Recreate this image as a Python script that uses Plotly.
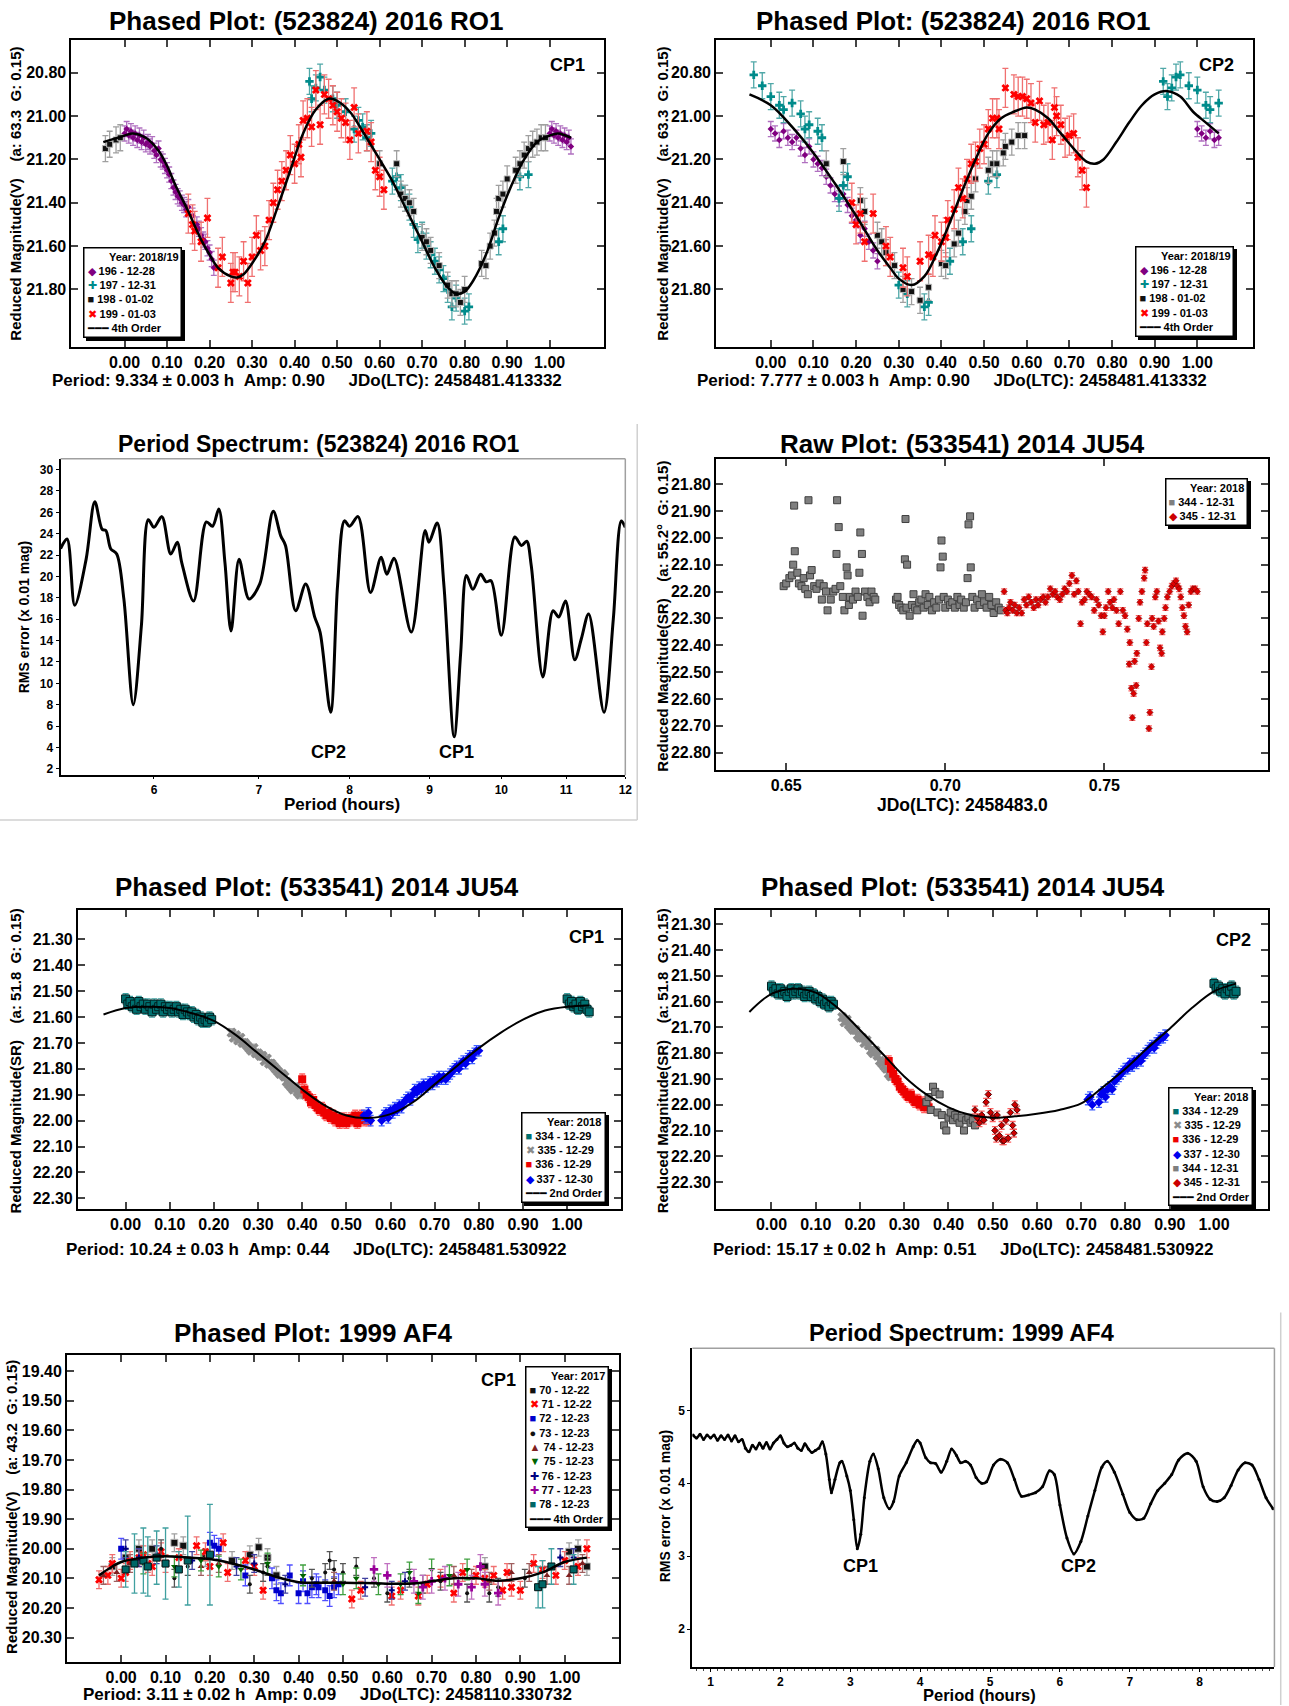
import math
import plotly.graph_objects as go

# ------------------------------------------------------------------ data
# Panel 1 : (523824) 2016 RO1, CP1 (phase, reduced magnitude)
RO1_CP1_196 = [(0.000,21.08),(0.005,21.06),(0.010,21.09),(0.015,21.07),(0.020,21.10),(0.025,21.08),(0.030,21.11),
               (0.035,21.09),(0.040,21.12),(0.045,21.10),(0.050,21.13),(0.055,21.12),(0.060,21.14),(0.065,21.13),
               (0.070,21.16),(0.075,21.18),(0.080,21.15),(0.085,21.20),(0.090,21.21),(0.095,21.23),(0.100,21.25),
               (0.105,21.27),(0.110,21.30),(0.115,21.33),(0.120,21.35),(0.125,21.37),(0.130,21.38),(0.135,21.40),
               (0.140,21.41),(0.145,21.43),(0.150,21.42),(0.160,21.46),(0.170,21.50),(0.175,21.52),(0.180,21.55),
               (0.185,21.57),(0.190,21.58),(0.195,21.61),(0.200,21.63),(0.205,21.66),(0.210,21.70),
               (1.000,21.08),(1.005,21.06),(1.010,21.09),(1.015,21.07),(1.020,21.10),(1.025,21.08),(1.030,21.11),
               (1.035,21.09),(1.040,21.12),(1.045,21.10),(1.050,21.14)]
RO1_CP1_197 = [(0.435,20.84),(0.440,20.92),(0.450,20.87),(0.460,20.82),(0.470,20.88),(0.490,20.92),(0.500,20.95),
               (0.520,20.98),(0.540,21.06),(0.550,21.02),(0.560,21.05),(0.570,21.10),(0.580,21.08),(0.630,21.30),
               (0.640,21.28),(0.650,21.33),(0.660,21.38),(0.670,21.42),(0.680,21.50),(0.690,21.57),(0.700,21.55),
               (0.710,21.60),(0.720,21.64),(0.730,21.67),(0.740,21.71),(0.750,21.75),(0.760,21.80),(0.770,21.88),
               (0.780,21.84),(0.800,21.90),(0.810,21.88),(0.880,21.58),(0.890,21.52),(0.930,21.28),(0.950,21.27)]
RO1_CP1_198 = [(-0.045,21.15),(-0.035,21.13),(-0.020,21.11),(-0.010,21.10),(0.600,21.22),(0.640,21.22),(0.650,21.36),
               (0.660,21.38),(0.670,21.40),(0.680,21.44),(0.700,21.56),(0.710,21.58),(0.720,21.62),(0.740,21.69),
               (0.760,21.78),(0.770,21.82),(0.780,21.82),(0.790,21.86),(0.800,21.80),(0.840,21.68),(0.850,21.69),
               (0.860,21.60),(0.870,21.54),(0.875,21.44),(0.880,21.38),(0.890,21.36),(0.900,21.29),(0.920,21.25),
               (0.930,21.22),(0.940,21.18),(0.950,21.15),(0.960,21.13),(0.970,21.12),(0.980,21.10),(0.990,21.10)]
RO1_CP1_199 = [(0.150,21.45),(0.160,21.50),(0.165,21.53),(0.180,21.58),(0.195,21.47),(0.220,21.70),(0.230,21.65),
               (0.250,21.77),(0.255,21.72),(0.260,21.72),(0.270,21.74),(0.280,21.67),(0.290,21.77),(0.300,21.65),
               (0.310,21.55),(0.320,21.62),(0.330,21.60),(0.340,21.48),(0.350,21.40),(0.360,21.34),(0.370,21.30),
               (0.380,21.25),(0.390,21.18),(0.400,21.22),(0.410,21.13),(0.415,21.19),(0.420,21.02),(0.430,21.01),
               (0.440,21.05),(0.450,20.88),(0.460,21.04),(0.470,20.90),(0.480,20.92),(0.490,20.95),(0.500,20.98),
               (0.510,21.01),(0.520,21.03),(0.530,21.11),(0.540,20.96),(0.550,21.08),(0.570,21.07),(0.580,21.12),
               (0.590,21.25),(0.600,21.28),(0.610,21.34)]
RO1_CP1_FIT = [(-0.05,21.12),(0.00,21.09),(0.02,21.08),(0.05,21.10),(0.08,21.16),(0.10,21.23),(0.12,21.32),
               (0.15,21.44),(0.18,21.57),(0.20,21.64),(0.22,21.70),(0.25,21.74),(0.265,21.745),(0.28,21.73),
               (0.30,21.68),(0.33,21.58),(0.36,21.42),(0.39,21.25),(0.42,21.08),(0.45,20.97),(0.48,20.92),
               (0.50,20.93),(0.53,20.98),(0.56,21.07),(0.60,21.20),(0.63,21.30),(0.66,21.42),(0.70,21.58),
               (0.73,21.70),(0.76,21.79),(0.78,21.82),(0.80,21.81),(0.82,21.76),(0.85,21.64),(0.88,21.47),
               (0.91,21.32),(0.94,21.20),(0.97,21.12),(1.00,21.09),(1.02,21.08),(1.05,21.10)]

# Panel 2 : (523824) 2016 RO1, CP2
RO1_CP2_196 = [(0.000,21.06),(0.010,21.08),(0.020,21.11),(0.030,21.07),(0.040,21.10),(0.050,21.12),(0.060,21.10),
               (0.070,21.15),(0.080,21.18),(0.090,21.14),(0.100,21.20),(0.110,21.22),(0.120,21.24),(0.130,21.28),
               (0.140,21.32),(0.150,21.36),(0.160,21.38),(0.170,21.36),(0.180,21.41),(0.190,21.46),(0.200,21.48),
               (0.210,21.55),(0.220,21.52),(0.230,21.58),(0.240,21.62),(0.250,21.67),
               (1.000,21.06),(1.010,21.08),(1.020,21.10),(1.030,21.07),(1.040,21.11),(1.050,21.10)]
RO1_CP2_197 = [(-0.040,20.81),(-0.020,20.86),(0.000,20.91),(0.020,20.95),(0.030,20.97),(0.050,20.94),(0.070,20.99),
               (0.080,21.06),(0.090,21.04),(0.110,21.07),(0.120,21.10),(0.160,21.38),(0.170,21.32),(0.180,21.28),
               (0.300,21.78),(0.320,21.82),(0.360,21.88),(0.370,21.86),(0.420,21.67),(0.450,21.58),(0.470,21.52),
               (0.510,21.30),(0.530,21.27),(0.920,20.84),(0.930,20.91),(0.940,20.87),(0.950,20.82),(0.960,20.81),
               (0.980,20.86),(1.000,20.88),(1.020,20.95),(1.030,20.97),(1.050,20.94)]
RO1_CP2_198 = [(0.130,21.22),(0.170,21.21),(0.210,21.39),(0.220,21.44),(0.250,21.55),(0.260,21.58),(0.270,21.63),
               (0.290,21.69),(0.310,21.80),(0.330,21.81),(0.350,21.85),(0.370,21.79),(0.400,21.68),(0.410,21.69),
               (0.430,21.59),(0.440,21.54),(0.455,21.44),(0.460,21.39),(0.470,21.37),(0.480,21.29),(0.510,21.25),
               (0.520,21.22),(0.530,21.22),(0.545,21.17),(0.550,21.14),(0.565,21.12),(0.580,21.09),(0.595,21.09)]
RO1_CP2_199 = [(0.190,21.40),(0.200,21.50),(0.210,21.45),(0.220,21.58),(0.240,21.45),(0.270,21.60),(0.280,21.65),
               (0.310,21.70),(0.320,21.74),(0.350,21.67),(0.370,21.64),(0.380,21.65),(0.385,21.55),(0.400,21.58),
               (0.410,21.56),(0.415,21.48),(0.430,21.43),(0.440,21.33),(0.450,21.38),(0.460,21.29),(0.470,21.22),
               (0.480,21.21),(0.490,21.15),(0.500,21.13),(0.510,21.06),(0.520,21.01),(0.530,21.01),(0.535,21.06),
               (0.550,20.87),(0.570,20.90),(0.580,20.91),(0.590,20.91),(0.600,20.92),(0.610,20.94),(0.620,21.03),
               (0.630,20.93),(0.640,21.04),(0.650,21.03),(0.660,21.11),(0.665,20.96),(0.670,21.00),(0.680,21.04),
               (0.690,21.10),(0.700,21.09),(0.710,21.08),(0.720,21.19),(0.730,21.25),(0.740,21.33)]
RO1_CP2_FIT = [(-0.05,20.90),(0.00,20.95),(0.05,21.05),(0.10,21.17),(0.15,21.31),(0.20,21.46),(0.25,21.62),
               (0.28,21.70),(0.30,21.75),(0.33,21.78),(0.36,21.74),(0.39,21.63),(0.42,21.49),(0.45,21.34),
               (0.48,21.20),(0.51,21.08),(0.54,21.01),(0.57,20.98),(0.60,20.96),(0.62,20.97),(0.65,21.01),
               (0.68,21.08),(0.71,21.15),(0.74,21.21),(0.76,21.22),(0.78,21.20),(0.81,21.12),(0.84,21.03),
               (0.87,20.95),(0.90,20.90),(0.93,20.885),(0.96,20.91),(0.99,20.98),(1.02,21.03),(1.05,21.08)]

# Panel 3 : period spectrum (523824) 2016 RO1 (period h, RMS x0.01 mag)
RO1_SPECTRUM = [(5.23,22.6),(5.28,23.5),(5.34,17.3),(5.43,21.6),(5.50,27.0),(5.56,24.4),(5.59,24.3),(5.63,22.6),
                (5.68,22.1),(5.74,17.9),(5.82,8.0),(5.89,15.4),(5.95,25.3),(6.00,24.6),(6.07,25.6),(6.15,22.1),
                (6.21,23.2),(6.25,21.3),(6.36,17.7),(6.48,25.1),(6.54,24.7),(6.60,26.3),(6.66,21.3),(6.72,14.9),
                (6.80,21.6),(6.90,17.9),(7.01,19.3),(7.15,26.1),(7.23,23.8),(7.28,22.9),(7.39,16.8),(7.50,19.3),
                (7.60,16.2),(7.66,14.8),(7.78,7.3),(7.86,19.2),(7.94,25.2),(8.00,24.7),(8.10,25.6),(8.25,18.5),
                (8.38,21.8),(8.45,20.2),(8.54,21.7),(8.76,14.8),(8.94,24.3),(8.99,23.2),(9.10,25.0),(9.19,19.2),
                (9.33,5.0),(9.42,12.9),(9.50,20.1),(9.59,18.8),(9.70,20.2),(9.78,19.5),(9.85,19.6),(10.00,14.5),
                (10.20,23.7),(10.30,22.9),(10.38,23.3),(10.45,21.0),(10.63,10.6),(10.79,16.8),(10.88,16.2),
                (10.99,17.7),(11.14,12.2),(11.25,14.2),(11.37,16.5),(11.63,7.3),(11.79,16.0),(11.93,25.2),(12.00,24.6)]

# Panel 4 : raw plot (533541) 2014 JU54 (JD fraction, reduced magnitude)
JU54_RAW_344 = [(0.6492,22.18),(0.6500,22.17),(0.6510,22.15),(0.6518,22.14),(0.6522,22.10),(0.6525,21.88),
                (0.6527,22.05),(0.6535,22.13),(0.6540,22.17),(0.6548,22.18),(0.6555,22.15),(0.6560,22.19),
                (0.6568,22.21),(0.6570,21.86),(0.6575,22.14),(0.6580,22.12),(0.6588,22.18),(0.6595,22.19),
                (0.6605,22.17),(0.6612,22.23),(0.6618,22.18),(0.6625,22.20),(0.6630,22.27),(0.6640,22.23),
                (0.6648,22.20),(0.6655,22.19),(0.6658,22.06),(0.6660,21.86),(0.6665,21.96),(0.6670,22.18),
                (0.6678,22.22),(0.6683,22.27),(0.6690,22.11),(0.6693,22.14),(0.6697,22.25),(0.6700,22.22),
                (0.6710,22.23),(0.6718,22.20),(0.6725,22.22),(0.6730,22.13),(0.6733,21.98),(0.6738,22.06),
                (0.6740,22.29),(0.6748,22.20),(0.6755,22.22),(0.6762,22.24),(0.6768,22.20),(0.6775,22.22),
                (0.6780,22.23),(0.6845,22.23),(0.6850,22.22),(0.6855,22.25),(0.6862,22.26),(0.6868,22.27),
                (0.6873,22.08),(0.6875,21.93),(0.6878,22.26),(0.6880,22.10),(0.6888,22.29),(0.6895,22.25),
                (0.6900,22.21),(0.6905,22.26),(0.6912,22.27),(0.6918,22.24),(0.6925,22.23),(0.6932,22.26),
                (0.6938,22.21),(0.6945,22.25),(0.6950,22.22),(0.6958,22.27),(0.6965,22.24),(0.6972,22.26),
                (0.6980,22.23),(0.6985,22.11),(0.6988,22.01),(0.6992,22.07),(0.6995,22.22),(0.7000,22.26),
                (0.7008,22.23),(0.7015,22.25),(0.7022,22.24),(0.7030,22.26),(0.7038,22.22),(0.7045,22.25),
                (0.7050,22.23),(0.7058,22.26),(0.7065,22.24),(0.7070,22.15),(0.7073,21.95),(0.7078,21.92),
                (0.7080,22.11),(0.7085,22.22),(0.7092,22.26),(0.7100,22.23),(0.7108,22.25),(0.7115,22.21),
                (0.7122,22.24),(0.7130,22.26),(0.7138,22.22),(0.7145,22.25),(0.7152,22.28),(0.7160,22.24),
                (0.7168,22.26),(0.7175,22.27)]
JU54_RAW_345 = [(0.7185,22.20),(0.7190,22.27),(0.7195,22.28),(0.7200,22.26),(0.7205,22.24),(0.7212,22.27),
                (0.7218,22.25),(0.7225,22.28),(0.7232,22.26),(0.7240,22.28),(0.7248,22.23),(0.7255,22.25),
                (0.7262,22.22),(0.7270,22.24),(0.7278,22.26),(0.7285,22.23),(0.7292,22.25),(0.7300,22.23),
                (0.7308,22.22),(0.7315,22.24),(0.7322,22.22),(0.7330,22.19),(0.7338,22.21),(0.7345,22.20),
                (0.7352,22.22),(0.7360,22.23),(0.7368,22.21),(0.7375,22.19),(0.7382,22.20),(0.7390,22.17),
                (0.7398,22.14),(0.7405,22.21),(0.7412,22.16),(0.7418,22.20),(0.7425,22.32),(0.7430,22.24),
                (0.7438,22.23),(0.7445,22.20),(0.7452,22.21),(0.7460,22.22),(0.7468,22.27),(0.7475,22.23),
                (0.7482,22.25),(0.7490,22.29),(0.7495,22.35),(0.7500,22.29),(0.7505,22.26),(0.7512,22.20),
                (0.7518,22.24),(0.7525,22.26),(0.7530,22.23),(0.7538,22.27),(0.7545,22.32),(0.7550,22.20),
                (0.7558,22.27),(0.7565,22.29),(0.7572,22.34),(0.7578,22.47),(0.7580,22.39),(0.7585,22.56),
                (0.7588,22.67),(0.7592,22.58),(0.7595,22.46),(0.7600,22.55),(0.7602,22.43),(0.7608,22.30),
                (0.7612,22.24),(0.7618,22.20),(0.7625,22.15),(0.7628,22.12),(0.7632,22.39),(0.7635,22.32),
                (0.7640,22.71),(0.7643,22.65),(0.7648,22.48),(0.7650,22.30),(0.7655,22.33),(0.7660,22.22),
                (0.7665,22.20),(0.7670,22.31),(0.7675,22.41),(0.7680,22.43),(0.7682,22.35),(0.7688,22.30),
                (0.7692,22.26),(0.7698,22.22),(0.7705,22.20),(0.7712,22.18),(0.7718,22.17),(0.7725,22.16),
                (0.7730,22.18),(0.7735,22.19),(0.7740,22.22),(0.7745,22.26),(0.7750,22.29),(0.7755,22.33),
                (0.7760,22.35),(0.7765,22.25),(0.7772,22.20),(0.7778,22.19),(0.7785,22.19),(0.7792,22.20)]

# Panel 5 : (533541) 2014 JU54, CP1
JU54_CP1_334 = [(0.000,21.53),(0.005,21.55),(0.010,21.54),(0.015,21.56),(0.020,21.55),(0.025,21.57),(0.030,21.54),
                (0.035,21.56),(0.040,21.55),(0.045,21.57),(0.050,21.55),(0.055,21.56),(0.060,21.58),(0.065,21.55),
                (0.070,21.57),(0.075,21.56),(0.080,21.55),(0.085,21.58),(0.090,21.56),(0.095,21.57),(0.100,21.56),
                (0.105,21.58),(0.110,21.57),(0.115,21.56),(0.120,21.58),(0.125,21.57),(0.130,21.59),(0.135,21.57),
                (0.140,21.58),(0.145,21.59),(0.150,21.58),(0.155,21.60),(0.160,21.59),(0.165,21.61),(0.170,21.60),
                (0.175,21.62),(0.180,21.61),(0.185,21.62),(0.190,21.60),(0.195,21.61),
                (1.000,21.53),(1.005,21.55),(1.010,21.54),(1.015,21.56),(1.020,21.55),(1.025,21.57),(1.030,21.54),
                (1.035,21.56),(1.040,21.55),(1.045,21.57),(1.050,21.58)]
JU54_CP1_335 = [(0.240,21.66),(0.245,21.68),(0.250,21.67),(0.255,21.69),(0.260,21.68),(0.265,21.70),(0.270,21.70),
                (0.275,21.71),(0.280,21.72),(0.285,21.73),(0.290,21.72),(0.295,21.74),(0.300,21.74),(0.305,21.75),
                (0.310,21.75),(0.315,21.77),(0.320,21.76),(0.325,21.78),(0.330,21.78),(0.335,21.79),(0.340,21.80),
                (0.345,21.81),(0.350,21.82),(0.355,21.82),(0.360,21.83),(0.365,21.85),(0.370,21.86),(0.375,21.87),
                (0.380,21.88),(0.385,21.87),(0.390,21.89),(0.395,21.90)]
JU54_CP1_336 = [(0.400,21.84),(0.405,21.88),(0.410,21.90),(0.415,21.91),(0.420,21.93),(0.425,21.92),(0.430,21.94),
                (0.435,21.95),(0.440,21.96),(0.445,21.95),(0.450,21.97),(0.455,21.98),(0.460,21.97),(0.465,21.99),
                (0.470,21.98),(0.475,22.00),(0.480,21.99),(0.485,22.01),(0.490,22.00),(0.495,21.99),(0.500,22.01),
                (0.505,22.00),(0.510,21.99),(0.515,22.00),(0.520,21.98),(0.525,22.01),(0.530,21.99),(0.535,21.98),
                (0.540,22.00),(0.545,21.99),(0.550,22.00)]
JU54_CP1_337 = [(0.540,21.98),(0.545,21.99),(0.550,21.97),(0.555,22.00),(0.580,22.00),(0.585,21.98),(0.590,21.97),
                (0.595,21.99),(0.600,21.96),(0.605,21.97),(0.610,21.95),(0.615,21.96),(0.620,21.94),(0.625,21.95),
                (0.630,21.93),(0.635,21.92),(0.640,21.91),(0.645,21.92),(0.650,21.90),(0.655,21.88),(0.660,21.89),
                (0.665,21.87),(0.670,21.88),(0.675,21.86),(0.680,21.87),(0.685,21.86),(0.690,21.85),(0.695,21.86),
                (0.700,21.84),(0.705,21.85),(0.710,21.83),(0.715,21.84),(0.720,21.83),(0.725,21.84),(0.730,21.83),
                (0.735,21.82),(0.740,21.81),(0.745,21.80),(0.750,21.79),(0.755,21.80),(0.760,21.78),(0.765,21.77),
                (0.770,21.78),(0.775,21.76),(0.780,21.75),(0.785,21.76),(0.790,21.74),(0.795,21.73),(0.800,21.73)]
JU54_CP1_FIT = [(-0.05,21.59),(0.00,21.565),(0.05,21.56),(0.10,21.565),(0.15,21.585),(0.20,21.615),(0.25,21.67),
                (0.30,21.74),(0.35,21.81),(0.40,21.88),(0.45,21.94),(0.50,21.98),(0.55,21.99),(0.60,21.975),
                (0.65,21.93),(0.70,21.86),(0.75,21.79),(0.80,21.72),(0.85,21.66),(0.90,21.61),(0.95,21.575),
                (1.00,21.56),(1.05,21.555)]

# Panel 6 : (533541) 2014 JU54, CP2
JU54_CP2_334 = [(0.000,21.54),(0.005,21.56),(0.010,21.55),(0.015,21.57),(0.020,21.55),(0.025,21.57),(0.030,21.56),
                (0.035,21.58),(0.040,21.56),(0.045,21.55),(0.050,21.57),(0.055,21.56),(0.060,21.55),(0.065,21.57),
                (0.070,21.56),(0.075,21.58),(0.080,21.57),(0.085,21.56),(0.090,21.58),(0.095,21.57),(0.100,21.59),
                (0.105,21.58),(0.110,21.60),(0.115,21.59),(0.120,21.61),(0.125,21.60),(0.130,21.62),(0.135,21.60),
                (0.140,21.61),(1.000,21.53),(1.005,21.55),(1.010,21.54),(1.015,21.56),(1.020,21.55),(1.025,21.57),
                (1.030,21.55),(1.035,21.56),(1.040,21.54),(1.045,21.57),(1.050,21.56)]
JU54_CP2_335 = [(0.160,21.66),(0.165,21.68),(0.170,21.67),(0.175,21.69),(0.180,21.70),(0.185,21.71),(0.190,21.71),
                (0.195,21.73),(0.200,21.74),(0.205,21.74),(0.210,21.76),(0.215,21.75),(0.220,21.77),(0.225,21.79),
                (0.230,21.80),(0.235,21.79),(0.240,21.81),(0.245,21.83),(0.250,21.84),(0.255,21.85),(0.260,21.86),
                (0.265,21.88),(0.270,21.89)]
JU54_CP2_336 = [(0.265,21.83),(0.270,21.86),(0.275,21.88),(0.280,21.90),(0.285,21.91),(0.290,21.93),(0.295,21.94),
                (0.300,21.95),(0.305,21.96),(0.310,21.97),(0.315,21.96),(0.320,21.98),(0.325,21.99),(0.330,21.98),
                (0.335,22.00),(0.340,21.99),(0.345,22.01),(0.350,22.00),(0.355,22.01)]
JU54_CP2_337 = [(0.715,21.98),(0.720,21.97),(0.725,22.00),(0.740,21.99),(0.745,21.96),(0.750,21.95),(0.755,21.97),
                (0.760,21.94),(0.765,21.93),(0.770,21.94),(0.775,21.91),(0.780,21.90),(0.785,21.89),(0.790,21.88),
                (0.795,21.87),(0.800,21.86),(0.805,21.86),(0.810,21.84),(0.815,21.85),(0.820,21.83),(0.825,21.84),
                (0.830,21.82),(0.835,21.83),(0.840,21.81),(0.845,21.80),(0.850,21.79),(0.855,21.78),(0.860,21.77),
                (0.865,21.78),(0.870,21.76),(0.875,21.75),(0.880,21.74),(0.885,21.74),(0.890,21.73)]
JU54_CP2_344 = [(0.350,21.99),(0.355,21.97),(0.360,22.02),(0.365,21.93),(0.370,21.95),(0.375,22.03),(0.380,21.96),
                (0.385,22.04),(0.390,22.08),(0.395,22.10),(0.400,22.05),(0.405,22.03),(0.410,22.06),(0.415,22.04),
                (0.420,22.05),(0.425,22.07),(0.430,22.05),(0.435,22.10),(0.440,22.06),(0.445,22.05),(0.450,22.07),
                (0.455,22.06),(0.460,22.08)]
JU54_CP2_345 = [(0.460,22.02),(0.465,22.05),(0.470,22.07),(0.475,22.04),(0.480,22.06),(0.485,21.99),(0.490,21.96),
                (0.495,22.03),(0.500,22.05),(0.505,22.10),(0.508,22.13),(0.510,22.04),(0.515,22.12),(0.520,22.08),
                (0.522,22.14),(0.525,22.14),(0.530,22.06),(0.535,22.13),(0.540,22.03),(0.545,22.08),(0.548,22.11),
                (0.550,22.00),(0.555,22.02)]
JU54_CP2_FIT = [(-0.05,21.64),(0.00,21.57),(0.05,21.55),(0.10,21.565),(0.15,21.625),(0.20,21.71),(0.25,21.80),
                (0.30,21.89),(0.35,21.96),(0.40,22.01),(0.45,22.04),(0.50,22.05),(0.55,22.045),(0.60,22.035),
                (0.65,22.02),(0.70,21.995),(0.75,21.93),(0.80,21.86),(0.85,21.78),(0.90,21.705),(0.95,21.625),
                (1.00,21.56),(1.05,21.53)]

# Panel 7 : 1999 AF4, CP1
AF4_70 = [(-0.020,20.06),(0.010,20.03),(0.040,20.00),(0.070,20.00),(0.120,19.98),(0.140,19.99),(0.190,20.03),
          (0.250,20.04),(0.290,20.02),(0.310,19.995),(0.330,20.03),(0.350,20.09),(0.820,20.06),(1.010,20.01),
          (1.030,20.00),(1.050,20.06)]
AF4_71 = [(-0.050,20.105),(-0.030,20.09),(-0.020,20.05),(0.000,20.10),(0.010,20.08),(0.020,20.04),(0.040,20.03),
          (0.050,20.02),(0.060,20.05),(0.070,20.06),(0.090,20.01),(0.100,20.05),(0.130,20.03),(0.170,19.99),
          (0.190,20.01),(0.200,20.06),(0.230,19.98),(0.240,20.08),(0.280,20.04),(0.300,20.06),(0.320,20.14),
          (0.520,20.17),(0.540,20.14),(0.610,20.16),(0.630,20.14),(0.670,20.16),(0.690,20.12),(0.720,20.10),
          (0.750,20.15),(0.770,20.08),(0.800,20.09),(0.820,20.10),(0.840,20.09),(0.860,20.14),(0.870,20.08),
          (0.880,20.13),(0.900,20.14),(0.930,20.05),(0.950,20.07),(0.980,20.09),(1.000,20.04),(1.030,20.06),
          (1.050,20.00)]
AF4_72 = [(0.000,20.00),(0.200,19.98),(0.210,19.99),(0.220,20.00),(0.280,20.09),(0.340,20.10),(0.350,20.14),
          (0.360,20.15),(0.380,20.09),(0.400,20.15),(0.410,20.11),(0.420,20.15),(0.430,20.13),(0.440,20.12),
          (0.445,20.13),(0.460,20.14),(0.470,20.16),(0.480,20.13),(0.490,20.12)]
AF4_73 = [(0.090,20.00),(0.120,20.10),(0.150,20.06),(0.290,20.12),(0.320,20.08),(0.330,20.06),(0.430,20.10),
          (0.460,20.08),(0.470,20.04),(0.480,20.07),(0.500,20.08),(0.530,20.06),(0.570,20.10),(0.600,20.15),
          (0.650,20.10),(0.680,20.12),(0.720,20.11),(0.780,20.15),(0.830,20.15),(0.850,20.13),(0.910,20.10)]
AF4_74 = [(-0.040,20.09),(-0.010,20.08),(0.020,20.05),(0.180,20.06),(0.220,20.05),(0.480,20.11),(0.750,20.09),
          (0.790,20.10),(0.830,20.11),(0.880,20.08),(0.920,20.08),(0.960,20.09),(1.010,20.09),(1.040,20.05)]
AF4_75 = [(0.050,20.05),(0.120,20.06),(0.180,20.04),(0.220,20.06),(0.270,20.07),(0.330,20.05),(0.410,20.09),
          (0.500,20.12),(0.530,20.10),(0.580,20.12),(0.630,20.12),(0.650,20.08),(0.670,20.15),(0.700,20.07),
          (0.740,20.09),(0.780,20.07)]
AF4_76 = [(0.010,20.00),(0.040,20.03),(0.080,20.02),(0.160,20.04),(0.260,20.06),(0.300,20.05),(0.370,20.12),
          (0.550,20.13),(0.610,20.14),(0.640,20.11),(0.990,20.03),(1.020,20.03)]
AF4_77 = [(0.570,20.07),(0.600,20.09),(0.660,20.11),(0.680,20.13),(0.700,20.11),(0.730,20.10),(0.760,20.12),
          (0.790,20.13),(0.810,20.06),(0.820,20.12),(0.850,20.15)]
AF4_78 = [(0.010,20.07),(0.030,20.05),(0.050,20.04),(0.060,20.06),(0.080,20.03),(0.100,20.05),(0.130,20.07),
          (0.150,20.04),(0.200,20.02),(0.940,20.13),(0.950,20.12),(0.970,20.06),(1.020,20.07)]
AF4_78_ERR = [0.06,0.10,0.11,0.10,0.09,0.12,0.06,0.15,0.17,0.07,0.08,0.06,0.05]
AF4_FIT = [(-0.05,20.09),(-0.02,20.06),(0.00,20.045),(0.05,20.03),(0.10,20.025),(0.15,20.03),(0.20,20.035),
           (0.25,20.05),(0.30,20.07),(0.35,20.095),(0.40,20.113),(0.45,20.115),(0.50,20.115),(0.55,20.116),
           (0.60,20.118),(0.65,20.118),(0.70,20.11),(0.75,20.10),(0.80,20.10),(0.85,20.108),(0.90,20.10),
           (0.95,20.08),(1.00,20.045),(1.05,20.03)]

# Panel 8 : period spectrum 1999 AF4
AF4_SPECTRUM = [(0.75,4.66),(0.80,4.62),(0.85,4.67),(0.90,4.60),(0.95,4.66),(1.00,4.62),(1.05,4.66),(1.10,4.59),
                (1.15,4.65),(1.20,4.60),(1.25,4.66),(1.30,4.58),(1.35,4.65),(1.40,4.57),(1.45,4.60),(1.50,4.48),
                (1.55,4.43),(1.60,4.52),(1.65,4.47),(1.70,4.55),(1.75,4.48),(1.80,4.56),(1.85,4.47),(1.90,4.55),
                (1.95,4.60),(2.00,4.65),(2.05,4.55),(2.10,4.50),(2.15,4.52),(2.20,4.55),(2.25,4.48),(2.30,4.45),
                (2.35,4.54),(2.40,4.47),(2.45,4.42),(2.50,4.45),(2.55,4.48),(2.60,4.57),(2.65,4.40),(2.70,4.05),
                (2.73,3.87),(2.78,4.05),(2.85,4.28),(2.88,4.30),(2.95,4.10),(3.00,3.90),(3.05,3.50),(3.10,3.10),
                (3.15,3.30),(3.20,3.80),(3.28,4.30),(3.33,4.40),(3.40,4.20),(3.48,3.80),(3.56,3.65),(3.62,3.75),
                (3.70,4.10),(3.80,4.28),(3.90,4.50),(3.96,4.59),(4.00,4.55),(4.08,4.35),(4.15,4.28),(4.22,4.27),
                (4.30,4.15),(4.38,4.30),(4.45,4.47),(4.52,4.38),(4.58,4.28),(4.65,4.30),(4.72,4.25),(4.80,4.08),
                (4.88,4.00),(4.95,4.02),(5.05,4.25),(5.15,4.33),(5.25,4.28),(5.35,4.05),(5.45,3.82),(5.55,3.84),
                (5.65,3.87),(5.75,3.95),(5.85,4.17),(5.92,4.12),(6.00,3.70),(6.10,3.25),(6.20,3.03),(6.30,3.20),
                (6.40,3.55),(6.50,3.90),(6.60,4.22),(6.68,4.30),(6.78,4.15),(6.90,3.85),(7.00,3.60),(7.10,3.50),
                (7.20,3.52),(7.30,3.72),(7.40,3.90),(7.50,4.00),(7.60,4.12),(7.70,4.32),(7.83,4.41),(7.95,4.30),
                (8.05,3.95),(8.15,3.78),(8.25,3.75),(8.35,3.80),(8.45,3.97),(8.55,4.18),(8.65,4.28),(8.75,4.25),
                (8.85,4.05),(8.95,3.80),(9.05,3.65)]

# tick labels
PHASE_TICKS = [0.0, 0.1, 0.2, 0.3, 0.4, 0.5, 0.6, 0.7, 0.8, 0.9, 1.0]
RO1_MAG_TICKS = [20.8, 21.0, 21.2, 21.4, 21.6, 21.8]
JU54_RAW_TICKS = [21.8, 21.9, 22.0, 22.1, 22.2, 22.3, 22.4, 22.5, 22.6, 22.7, 22.8]
JU54_MAG_TICKS = [21.3, 21.4, 21.5, 21.6, 21.7, 21.8, 21.9, 22.0, 22.1, 22.2, 22.3]
AF4_MAG_TICKS = [19.4, 19.5, 19.6, 19.7, 19.8, 19.9, 20.0, 20.1, 20.2, 20.3]
RO1_SPEC_XTICKS = [6, 7, 8, 9, 10, 11, 12]
RO1_SPEC_YTICKS = [2, 4, 6, 8, 10, 12, 14, 16, 18, 20, 22, 24, 26, 28, 30]
AF4_SPEC_XTICKS = [1, 2, 3, 4, 5, 6, 7, 8]
AF4_SPEC_YTICKS = [2, 3, 4, 5]

# legend entries: (glyph, colour, label)
LEG_RO1 = [("◆", "#800080", "196 - 12-28"), ("✚", "#008b8b", "197 - 12-31"),
           ("■", "#111111", "198 - 01-02"), ("✖", "#ff0000", "199 - 01-03"), ("━━━", "#000000", "4th Order")]
LEG_RAW = [("■", "#7f7f7f", "344 - 12-31"), ("◆", "#cc0000", "345 - 12-31")]
LEG_JU54_CP1 = [("■", "#007070", "334 - 12-29"), ("✖", "#8c8c8c", "335 - 12-29"),
                ("■", "#ee0000", "336 - 12-29"), ("◆", "#0000ee", "337 - 12-30"), ("━━━", "#000000", "2nd Order")]
LEG_JU54_CP2 = [("■", "#007070", "334 - 12-29"), ("✖", "#8c8c8c", "335 - 12-29"),
                ("■", "#ee0000", "336 - 12-29"), ("◆", "#0000ee", "337 - 12-30"),
                ("■", "#7f7f7f", "344 - 12-31"), ("◆", "#cc0000", "345 - 12-31"), ("━━━", "#000000", "2nd Order")]
LEG_AF4 = [("■", "#111111", "70 - 12-22"), ("✖", "#ff0000", "71 - 12-22"), ("■", "#0000cc", "72 - 12-23"),
           ("●", "#111111", "73 - 12-23"), ("▲", "#802020", "74 - 12-23"), ("▼", "#006400", "75 - 12-23"),
           ("✚", "#000080", "76 - 12-23"), ("✚", "#990099", "77 - 12-23"), ("■", "#006666", "78 - 12-23"),
           ("━━━", "#000000", "4th Order")]

# ------------------------------------------------------------------ layout helpers
SW, SH = 1185.0, 1568.0  # reference grid
FONT = "Liberation Sans, Arial, sans-serif"


def px(x):
    return x / SW


def py(y):
    return 1 - y / SH


def xs(d):
    return [p[0] for p in d]


def ys(d):
    return [p[1] for p in d]


fig = go.Figure()


def pts(d, ax, name, color, symbol, size, err, errcolor, line=None):
    if isinstance(err, float):
        ey = dict(type="constant", value=err, color=errcolor, thickness=1.3, width=3)
    elif err:
        ey = dict(type="data", array=err, color=errcolor, thickness=1.3, width=3)
    else:
        ey = None
    fig.add_trace(go.Scatter(
        x=xs(d), y=ys(d), mode="markers", name=name,
        xaxis="x%s" % ax, yaxis="y%s" % ax,
        marker=dict(color=color, symbol=symbol, size=size, line=line if line else dict(width=0)),
        error_y=ey, showlegend=False))


def fit(d, ax, name, width=2.5):
    fig.add_trace(go.Scatter(
        x=xs(d), y=ys(d), mode="lines", name=name, xaxis="x%s" % ax, yaxis="y%s" % ax,
        line=dict(color="black", width=width, shape="spline", smoothing=1.0), showlegend=False))


TEAL = "#008b8b"
PURPLE = "#800080"
RED = "#ff0000"

# Panel 1
pts(RO1_CP1_196, 1, "196 - 12-28", PURPLE, "diamond", 5, 0.035, "#b070c0")
pts(RO1_CP1_197, 1, "197 - 12-31", TEAL, "cross", 7, 0.06, "#50a8a8")
pts(RO1_CP1_198, 1, "198 - 01-02", "#111111", "square", 6, 0.06, "#a0a0a0", line=dict(color="#bbbbbb", width=1))
pts(RO1_CP1_199, 1, "199 - 01-03", RED, "x", 7, 0.09, "#f07070")
fit(RO1_CP1_FIT, 1, "4th Order")

# Panel 2
pts(RO1_CP2_196, 2, "196 - 12-28", PURPLE, "diamond", 5, 0.035, "#b070c0")
pts(RO1_CP2_197, 2, "197 - 12-31", TEAL, "cross", 7, 0.06, "#50a8a8")
pts(RO1_CP2_198, 2, "198 - 01-02", "#111111", "square", 6, 0.06, "#a0a0a0", line=dict(color="#bbbbbb", width=1))
pts(RO1_CP2_199, 2, "199 - 01-03", RED, "x", 7, 0.09, "#f07070")
fit(RO1_CP2_FIT, 2, "4th Order")

# Panel 3
fig.add_trace(go.Scatter(x=xs(RO1_SPECTRUM), y=ys(RO1_SPECTRUM), mode="lines", xaxis="x3", yaxis="y3",
                         name="RMS", line=dict(color="black", width=3, shape="spline", smoothing=0.9),
                         showlegend=False))

# Panel 4
pts(JU54_RAW_344, 4, "344 - 12-31", "#7f7f7f", "square", 7, None, None, line=dict(color="#404040", width=1))
pts(JU54_RAW_345, 4, "345 - 12-31", "#dd0000", "diamond", 5, 0.01, "#ff6060", line=dict(color="#600000", width=0.5))

# Panel 5
pts(JU54_CP1_334, 5, "334 - 12-29", "#007070", "square", 8, 0.02, "#40a0a0", line=dict(color="#002020", width=1))
pts(JU54_CP1_335, 5, "335 - 12-29", "#8c8c8c", "x", 9, 0.015, "#b0b0b0")
pts(JU54_CP1_336, 5, "336 - 12-29", "#ee0000", "square", 8, 0.02, "#ff6060")
pts(JU54_CP1_337, 5, "337 - 12-30", "#0000ee", "diamond", 7, 0.02, "#4060ff")
fit(JU54_CP1_FIT, 5, "2nd Order", width=2)

# Panel 6
pts(JU54_CP2_334, 6, "334 - 12-29", "#007070", "square", 8, 0.02, "#40a0a0", line=dict(color="#002020", width=1))
pts(JU54_CP2_335, 6, "335 - 12-29", "#8c8c8c", "x", 9, 0.015, "#b0b0b0")
pts(JU54_CP2_336, 6, "336 - 12-29", "#ee0000", "square", 8, 0.02, "#ff6060")
pts(JU54_CP2_337, 6, "337 - 12-30", "#0000ee", "diamond", 7, 0.02, "#4060ff")
pts(JU54_CP2_344, 6, "344 - 12-31", "#7f7f7f", "square", 7, None, None, line=dict(color="#404040", width=1))
pts(JU54_CP2_345, 6, "345 - 12-31", "#cc0000", "diamond", 5, 0.015, "#ff6060", line=dict(color="#500000", width=1))
fit(JU54_CP2_FIT, 6, "2nd Order", width=2)

# Panel 7
pts(AF4_70, 7, "70 - 12-22", "#111111", "square", 7, 0.03, "#a0a0a0", line=dict(color="#bbbbbb", width=1))
pts(AF4_71, 7, "71 - 12-22", RED, "x", 7, 0.03, "#f07070")
pts(AF4_72, 7, "72 - 12-23", "#0000cc", "square", 6, 0.035, "#5050ff")
pts(AF4_73, 7, "73 - 12-23", "#111111", "circle", 4, 0.03, "#555555")
pts(AF4_74, 7, "74 - 12-23", "#802020", "triangle-up", 6, 0.03, "#a06060")
pts(AF4_75, 7, "75 - 12-23", "#006400", "triangle-down", 6, 0.035, "#40a040")
pts(AF4_76, 7, "76 - 12-23", "#000080", "cross", 5, 0.03, "#4040a0")
pts(AF4_77, 7, "77 - 12-23", "#990099", "cross", 7, 0.04, "#c070c0")
pts(AF4_78, 7, "78 - 12-23", "#006666", "square", 7, AF4_78_ERR, "#40a0a0", line=dict(color="#001010", width=1))
fit(AF4_FIT, 7, "4th Order")

# Panel 8
fig.add_trace(go.Scatter(x=xs(AF4_SPECTRUM), y=ys(AF4_SPECTRUM), mode="lines+markers", xaxis="x8", yaxis="y8",
                         name="RMS", line=dict(color="black", width=2.5, shape="spline", smoothing=0.8),
                         marker=dict(size=3, color="black"), showlegend=False))

# ------------------------------------------------------------------ axes
TICKFONT = dict(family=FONT, size=16, color="black")


def box_axis(**kw):
    base = dict(showline=True, linecolor="black", linewidth=2, mirror="ticks", ticks="inside", ticklen=7,
                tickwidth=1.5, tickcolor="#444", showgrid=False, zeroline=False, tickfont=TICKFONT)
    base.update(kw)
    return base


def phase_axes(n, box, xr, yr, yticks):
    x0, x1, y0, y1 = box
    fig.layout["xaxis%d" % n] = box_axis(
        domain=[px(x0), px(x1)], anchor="y%d" % n, range=xr, tickvals=PHASE_TICKS,
        ticktext=["<b>%.2f</b>" % v for v in PHASE_TICKS])
    fig.layout["yaxis%d" % n] = box_axis(
        domain=[py(y1), py(y0)], anchor="x%d" % n, range=yr, tickvals=yticks,
        ticktext=["<b>%.2f</b>" % v for v in yticks])


phase_axes(1, (66, 558, 37, 319), [-0.125, 1.127], [22.065, 20.65], RO1_MAG_TICKS)
phase_axes(2, (662, 1158, 37, 319), [-0.128, 1.13], [22.065, 20.65], RO1_MAG_TICKS)
phase_axes(5, (72, 574, 837, 1112), [-0.108, 1.122], [22.342, 21.187], JU54_MAG_TICKS)
phase_axes(6, (662, 1172, 837, 1112), [-0.125, 1.122], [22.405, 21.245], JU54_MAG_TICKS)
phase_axes(7, (62, 572, 1246, 1528), [-0.122, 1.122], [20.381, 19.345], AF4_MAG_TICKS)

fig.layout["xaxis4"] = box_axis(
    domain=[px(662), px(1172)], anchor="y4", range=[0.628, 0.8014], tickvals=[0.65, 0.70, 0.75],
    ticktext=["<b>0.65</b>", "<b>0.70</b>", "<b>0.75</b>"])
fig.layout["yaxis4"] = box_axis(
    domain=[py(708), py(422)], anchor="x4", range=[22.864, 21.706], tickvals=JU54_RAW_TICKS,
    ticktext=["<b>%.2f</b>" % v for v in JU54_RAW_TICKS])

SPECFONT = dict(family=FONT, size=12, color="black")
fig.layout["xaxis3"] = dict(
    domain=[px(56), px(578)], anchor="y3", type="log", range=[math.log10(5.23), math.log10(12.0)],
    tickvals=RO1_SPEC_XTICKS, ticktext=["<b>%d</b>" % v for v in RO1_SPEC_XTICKS], tickfont=SPECFONT,
    showline=True, linecolor="black", linewidth=2, ticks="outside", ticklen=2, tickcolor="black",
    showgrid=False, zeroline=False)
fig.layout["yaxis3"] = dict(
    domain=[py(713), py(422)], anchor="x3", range=[1.4, 31.0], tickvals=RO1_SPEC_YTICKS,
    ticktext=["<b>%d</b>" % v for v in RO1_SPEC_YTICKS], tickfont=SPECFONT,
    showline=True, linecolor="black", linewidth=2, ticks="outside", ticklen=3, tickcolor="black",
    showgrid=False, zeroline=False)
fig.layout["xaxis8"] = dict(
    domain=[px(640), px(1178)], anchor="y8", range=[0.74, 9.07],
    tickvals=AF4_SPEC_XTICKS, ticktext=["<b>%d</b>" % v for v in AF4_SPEC_XTICKS], tickfont=SPECFONT,
    showline=True, linecolor="black", linewidth=2, ticks="outside", ticklen=3, tickcolor="black",
    minor=dict(dtick=0.1, tick0=0, ticks="outside", ticklen=2, tickcolor="#444", showgrid=False),
    showgrid=False, zeroline=False)
fig.layout["yaxis8"] = dict(
    domain=[py(1533), py(1240)], anchor="x8", range=[1.48, 5.85], tickvals=AF4_SPEC_YTICKS,
    ticktext=["<b>%d</b>" % v for v in AF4_SPEC_YTICKS], tickfont=SPECFONT,
    showline=True, linecolor="black", linewidth=2, ticks="outside", ticklen=3, tickcolor="black",
    showgrid=False, zeroline=False)

shapes = []
for n in (3, 8):
    shapes.append(dict(type="line", xref="x%d domain" % n, yref="y%d domain" % n, x0=0, x1=1, y0=1, y1=1,
                       line=dict(color="#a0a0a0", width=1.5)))
    shapes.append(dict(type="line", xref="x%d domain" % n, yref="y%d domain" % n, x0=1, x1=1, y0=0, y1=1,
                       line=dict(color="#a0a0a0", width=1.5)))
shapes.append(dict(type="line", xref="paper", yref="paper", x0=px(589), x1=px(589), y0=py(754), y1=py(390),
                   line=dict(color="#d0d0d0", width=1.5)))
shapes.append(dict(type="line", xref="paper", yref="paper", x0=0, x1=px(589), y0=py(754), y1=py(754),
                   line=dict(color="#d0d0d0", width=1.5)))
shapes.append(dict(type="line", xref="paper", yref="paper", x0=0.999, x1=0.999, y0=0, y1=py(1207),
                   line=dict(color="#d0d0d0", width=1.5)))
fig.layout.shapes = shapes

# ------------------------------------------------------------------ texts
ann = []


def text(x, y, s, size, angle=0, ref=("paper", "paper")):
    if ref[0] == "x3":
        x = math.log10(x)
    ann.append(dict(x=x, y=y, xref=ref[0], yref=ref[1], text="<b>%s</b>" % s, showarrow=False,
                    textangle=angle, font=dict(family=FONT, size=size, color="black"),
                    xanchor="center", yanchor="middle"))


NB = "\u00a0"
text(px(283), py(19), "Phased Plot: (523824) 2016 RO1", 26)
text(px(881), py(19), "Phased Plot: (523824) 2016 RO1", 26)
text(px(295), py(408), "Period Spectrum: (523824) 2016 RO1", 23)
text(px(890), py(408), "Raw Plot: (533541) 2014 JU54", 26)
text(px(293), py(816), "Phased Plot: (533541) 2014 JU54", 26)
text(px(890), py(816), "Phased Plot: (533541) 2014 JU54", 26)
text(px(289), py(1226), "Phased Plot: 1999 AF4", 26)
text(px(889), py(1226), "Period Spectrum: 1999 AF4", 23.5)

SEP1, SEP2 = NB * 2, NB * 5
text(px(284), py(350), "Period: 9.334 ± 0.003 h" + SEP1 + "Amp: 0.90" + SEP2 + "JDo(LTC): 2458481.413332", 17)
text(px(880), py(350), "Period: 7.777 ± 0.003 h" + SEP1 + "Amp: 0.90" + SEP2 + "JDo(LTC): 2458481.413332", 17)
text(px(316), py(740), "Period (hours)", 17)
text(px(890), py(740), "JDo(LTC): 2458483.0", 17.5)
text(px(292), py(1149), "Period: 10.24 ± 0.03 h" + SEP1 + "Amp: 0.44" + SEP2 + "JDo(LTC): 2458481.530922", 17)
text(px(890), py(1149), "Period: 15.17 ± 0.02 h" + SEP1 + "Amp: 0.51" + SEP2 + "JDo(LTC): 2458481.530922", 17)
text(px(303), py(1558), "Period: 3.11 ± 0.02 h" + SEP1 + "Amp: 0.09" + SEP2 + "JDo(LTC): 2458110.330732", 17)
text(px(905), py(1559), "Period (hours)", 16.5)

text(px(14), py(178), "Reduced Magnitude(V)" + NB * 4 + "(a: 63.3" + NB * 2 + "G: 0.15)", 15, angle=-90)
text(px(612), py(178), "Reduced Magnitude(V)" + NB * 4 + "(a: 63.3" + NB * 2 + "G: 0.15)", 15, angle=-90)
text(px(22), py(567), "RMS error (x 0.01 mag)", 14, angle=-90)
text(px(612), py(567), "Reduced Magnitude(SR)" + NB * 4 + "(a: 55.2°" + NB * 2 + "G: 0.15)", 15, angle=-90)
text(px(14), py(976), "Reduced Magnitude(SR)" + NB * 4 + "(a: 51.8" + NB * 2 + "G: 0.15)", 15, angle=-90)
text(px(612), py(976), "Reduced Magnitude(SR)" + NB * 4 + "(a: 51.8" + NB * 2 + "G: 0.15)", 15, angle=-90)
text(px(10), py(1386), "Reduced Magnitude(V)" + NB * 4 + "(a: 43.2" + NB * 2 + "G: 0.15)", 15, angle=-90)
text(px(615), py(1385), "RMS error (x 0.01 mag)", 14, angle=-90)

text(1.043, 20.765, "CP1", 18, ref=("x1", "y1"))
text(1.045, 20.765, "CP2", 18, ref=("x2", "y2"))
text(1.045, 21.29, "CP1", 18, ref=("x5", "y5"))
text(1.045, 21.36, "CP2", 18, ref=("x6", "y6"))
text(0.85, 19.43, "CP1", 18, ref=("x7", "y7"))
text(7.75, 3.6, "CP2", 18, ref=("x3", "y3"))
text(9.36, 3.6, "CP1", 18, ref=("x3", "y3"))
text(3.15, 2.87, "CP1", 18, ref=("x8", "y8"))
text(6.26, 2.87, "CP2", 18, ref=("x8", "y8"))


def legend_box(x, y, title, rows, size=11):
    def build(visible):
        lines = [NB * 7 + "<b>%s</b>" % title]
        for g, c, lab in rows:
            col = c if visible else "rgba(0,0,0,0)"
            lines.append('<span style="color:%s">%s</span>%s<b>%s</b>' % (col, g, NB, lab))
        return "<br>".join(lines)
    common = dict(x=px(x), y=py(y), xref="paper", yref="paper", xanchor="left", yanchor="top",
                  showarrow=False, align="left", borderpad=2, borderwidth=1.5)
    ann.append(dict(text=build(False), bgcolor="#000000", bordercolor="#000000", xshift=3, yshift=-3,
                    font=dict(family=FONT, size=size, color="rgba(0,0,0,0)"), **common))
    ann.append(dict(text=build(True), bgcolor="#ffffff", bordercolor="#000000",
                    font=dict(family=FONT, size=size, color="black"), **common))


legend_box(77, 227, "Year: 2018/19", LEG_RO1)
legend_box(1049, 226, "Year: 2018/19", LEG_RO1)
legend_box(1077, 440, "Year: 2018", LEG_RAW)
legend_box(482, 1023, "Year: 2018", LEG_JU54_CP1)
legend_box(1080, 1000, "Year: 2018", LEG_JU54_CP2)
legend_box(485, 1256, "Year: 2017", LEG_AF4)

fig.layout.annotations = ann

fig.update_layout(width=1289, height=1706, margin=dict(l=0, r=0, t=0, b=0),
                  paper_bgcolor="white", plot_bgcolor="white", showlegend=False)

fig.write_html("out.html", config={"displayModeBar": False},
               post_script="document.body.style.margin='0';document.body.style.padding='0';")
